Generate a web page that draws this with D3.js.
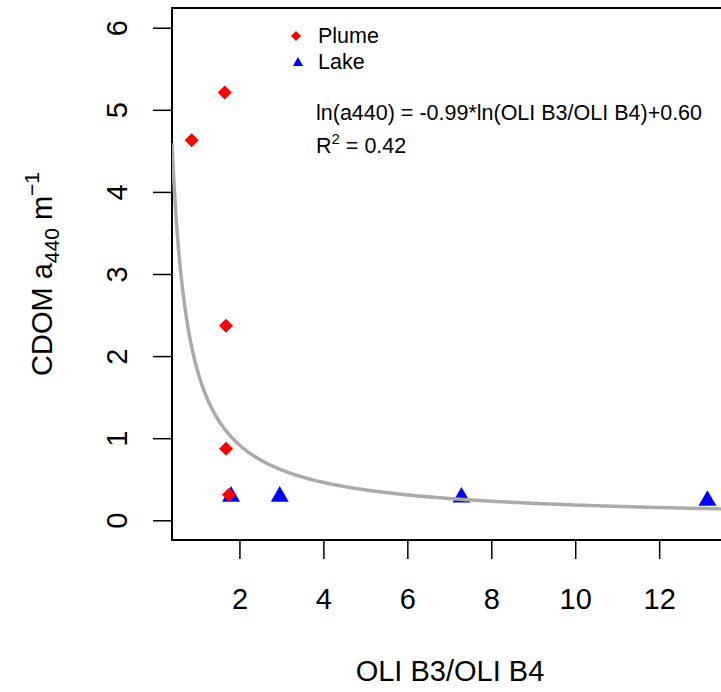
<!DOCTYPE html>
<html>
<head>
<meta charset="utf-8">
<script src="https://cdn.jsdelivr.net/npm/d3@7"></script>
<style>
  body { margin: 0; background: #fff; }
  svg text { font-family: "Liberation Sans", Arial, sans-serif; fill: #000; }
</style>
</head>
<body>
<div class="chart-container"></div>
<script>
// values
var plumeX = [0.86, 1.65, 1.68, 1.68, 1.75];
var plumeY = [4.63, 5.21, 2.37, 0.87, 0.31];
var lakeX = [1.80, 2.96, 7.29, 13.15];
var lakeY = [0.29, 0.29, 0.28, 0.24];
var xTicks = [2, 4, 6, 8, 10, 12];
var yTicks = [0, 1, 2, 3, 4, 5, 6];
var fitSlope = -0.99, fitIntercept = 0.60;

var width = 721, height = 692;
var margin = {top: 8, left: 172, bottom: 152, right: -7};
var plotW = width - margin.left - margin.right,
    plotH = height - margin.top - margin.bottom;

var x = d3.scaleLinear()
    .domain([0.393, 13.64])
    .range([margin.left, margin.left + plotW]);
var y = d3.scaleLinear()
    .domain([-0.24, 6.24])
    .range([margin.top + plotH, margin.top]);

var svg = d3.select(".chart-container").append("svg")
    .attr("width", width)
    .attr("height", height);

svg.append("rect").attr("width", width).attr("height", height).attr("fill", "#fff");

svg.append("defs").append("clipPath").attr("id", "plotclip")
    .append("rect")
    .attr("x", margin.left).attr("y", margin.top)
    .attr("width", plotW).attr("height", plotH);

// axes, R style: ticks outward, labels detached
var xAxis = svg.append("g")
    .attr("transform", "translate(0," + (margin.top + plotH) + ")")
    .call(d3.axisBottom(x).tickValues(xTicks).tickFormat(d3.format("d")).tickSize(19).tickSizeOuter(0));
xAxis.select(".domain").remove();
xAxis.selectAll("line").attr("stroke", "#000").attr("stroke-width", 1.5);
xAxis.selectAll("text").attr("font-size", 29).attr("dy", 0).attr("y", 69);

var yAxis = svg.append("g")
    .attr("transform", "translate(" + margin.left + ",0)")
    .call(d3.axisLeft(y).tickValues(yTicks).tickFormat(d3.format("d")).tickSize(19).tickSizeOuter(0));
yAxis.select(".domain").remove();
yAxis.selectAll("line").attr("stroke", "#000").attr("stroke-width", 1.5);
yAxis.selectAll("text")
    .attr("font-size", 29)
    .attr("x", 0).attr("dy", 0)
    .attr("text-anchor", "middle")
    .attr("transform", "translate(-45,0) rotate(-90)");

svg.append("rect")
    .attr("x", margin.left).attr("y", margin.top)
    .attr("width", plotW).attr("height", plotH)
    .attr("fill", "none").attr("stroke", "#000").attr("stroke-width", 2);

var plot = svg.append("g").attr("clip-path", "url(#plotclip)");

// lake triangles
var tri = d3.symbol().type(d3.symbolTriangle).size(140);
plot.selectAll(".lake")
    .data(lakeX.map(function (d, i) { return [d, lakeY[i]]; }))
    .enter().append("path")
    .attr("class", "lake")
    .attr("d", tri)
    .attr("fill", "#0000ff")
    .attr("transform", function (d) {
        return "translate(" + x(d[0]) + "," + y(d[1]) + ")";
    });

// plume diamonds
plot.selectAll(".plume")
    .data(plumeX.map(function (d, i) { return [d, plumeY[i]]; }))
    .enter().append("path")
    .attr("class", "plume")
    .attr("d", "M0,-7L7,0L0,7L-7,0Z")
    .attr("fill", "#ff0000")
    .attr("transform", function (d) {
        return "translate(" + x(d[0]) + "," + y(d[1]) + ")";
    });

// fitted power curve ln(a440) = b*ln(ratio) + a
var curveX = d3.range(x.domain()[0], x.domain()[1], 0.05);
var fitLine = d3.line()
    .x(function (d) { return x(d); })
    .y(function (d) { return y(Math.exp(fitIntercept) * Math.pow(d, fitSlope)); });
plot.append("path")
    .datum(curveX)
    .attr("d", fitLine)
    .attr("fill", "none")
    .attr("stroke", "#aaaaaa")
    .attr("stroke-width", 3.5);

// legend
svg.append("path").attr("d", "M0,-5L5,0L0,5L-5,0Z").attr("fill", "#ff0000")
    .attr("transform", "translate(296,36)");
svg.append("path").attr("d", d3.symbol().type(d3.symbolTriangle).size(45)).attr("fill", "#0000ff")
    .attr("transform", "translate(298,63)");
svg.append("text").attr("x", 318).attr("y", 43).attr("font-size", 21.5).text("Plume");
svg.append("text").attr("x", 318).attr("y", 69).attr("font-size", 21.5).text("Lake");

// equation
svg.append("text").attr("x", 316).attr("y", 120).attr("font-size", 21.5)
    .text("ln(a440) = -0.99*ln(OLI B3/OLI B4)+0.60");
var r2 = svg.append("text").attr("x", 316).attr("y", 153).attr("font-size", 21.5);
r2.append("tspan").text("R");
r2.append("tspan").attr("font-size", 15).attr("dy", -9).text("2");
r2.append("tspan").attr("dy", 9).text(" = 0.42");

// axis titles
svg.append("text")
    .attr("x", margin.left + plotW / 2).attr("y", 681)
    .attr("text-anchor", "middle").attr("font-size", 29)
    .text("OLI B3/OLI B4");

var yl = svg.append("text")
    .attr("text-anchor", "middle").attr("font-size", 29)
    .attr("transform", "translate(52," + (margin.top + plotH / 2) + ") rotate(-90)");
yl.append("tspan").text("CDOM a");
yl.append("tspan").attr("font-size", 21).attr("dy", 7).text("440");
yl.append("tspan").attr("dy", -7).text(" m");
yl.append("tspan").attr("font-size", 21).attr("dy", -13).text("\u22121");
</script>
</body>
</html>
